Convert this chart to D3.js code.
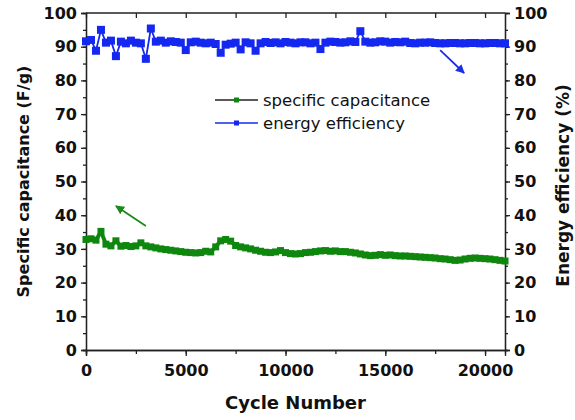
<!DOCTYPE html>
<html>
<head>
<meta charset="utf-8">
<script src="https://cdn.jsdelivr.net/npm/d3@7"></script>
<style>
  body { margin: 0; background: #fff; }
  text { font-family: "DejaVu Sans", sans-serif; }
  .tick text { font-size: 16px; font-weight: bold; fill: #111; }
  .domain, .tick line { stroke: #222; stroke-width: 1.3; }
</style>
</head>
<body>
<div id="chart"></div>
<script>
const cycleStep = 250;
const capacitance = [
  32.8, 33.0, 32.6, 35.2, 31.4, 30.9, 32.4, 30.8, 31.0, 30.7, 30.9, 31.8, 30.9, 30.6, 30.3, 30.0, 29.8,
  29.6, 29.4, 29.2, 29.0, 28.9, 28.8, 28.9, 29.3, 29.1, 30.6, 32.4, 32.8, 32.3, 31.0, 30.6, 30.3, 30.0,
  29.6, 29.3, 29.0, 28.9, 29.1, 29.5, 28.9, 28.6, 28.5, 28.6, 28.9, 29.0, 29.2, 29.4, 29.5, 29.3, 29.4,
  29.2, 29.2, 29.0, 28.8, 28.5, 28.2, 28.0, 28.1, 28.3, 28.1, 28.2, 28.0, 27.9, 27.9, 27.8, 27.7, 27.6,
  27.5, 27.4, 27.3, 27.1, 27.0, 26.8, 26.6, 26.7, 27.0, 27.2, 27.3, 27.2, 27.1, 27.0, 26.8, 26.6, 26.4
];
const efficiency = [
  91.6, 92.0, 88.8, 95.0, 91.2, 91.8, 87.2, 91.5, 91.0, 91.8, 91.2, 91.0, 86.4, 95.4, 91.5, 91.8, 91.2,
  91.6, 91.4, 91.2, 89.0, 91.3, 91.5, 91.2, 91.0, 91.2, 90.8, 88.2, 90.6, 90.9, 91.2, 89.2, 91.3, 91.0,
  88.8, 91.0, 91.4, 91.1, 91.3, 91.0, 91.4, 91.2, 91.0, 91.3, 91.3, 91.0, 91.2, 89.3, 91.2, 91.5, 91.4,
  91.2, 91.3, 91.6, 91.4, 94.6, 91.5, 91.2, 91.3, 91.6, 91.5, 91.2, 91.4, 91.3, 91.5, 91.1, 91.0, 91.2,
  91.2, 91.3, 91.1, 91.0, 91.0, 91.1, 91.1, 91.0, 91.0, 91.1, 91.1, 91.0, 91.0, 91.1, 91.1, 91.0, 91.0
];
const xTicks = [0, 5000, 10000, 15000, 20000];
const yTicks = [0, 10, 20, 30, 40, 50, 60, 70, 80, 90, 100];
const legendLabels = ['specific capacitance', 'energy efficiency'];
// arrows: [fromCycle, fromValue, toCycle, toValue]
const greenArrow = [3000, 36.8, 1500, 42.7];
const blueArrow = [17750, 89.0, 18950, 82.2];

const capData = capacitance.map((v, i) => ({ cycle: i * cycleStep, value: v }));
const effData = efficiency.map((v, i) => ({ cycle: i * cycleStep, value: v }));

const width = 575;
const height = 420;
const margin = { top: 13, right: 70, bottom: 70, left: 86 };

const svg = d3.select('#chart')
  .append('svg')
  .attr('width', width)
  .attr('height', height);

const xScale = d3.scaleLinear().domain([0, 21000]).range([margin.left, width - margin.right]);
const yScale = d3.scaleLinear().domain([0, 100]).range([height - margin.bottom, margin.top]);

const defs = svg.append('defs');
[['arrowGreen', '#1a8a1a'], ['arrowBlue', '#1a2ee8']].forEach(([id, c]) => {
  defs.append('marker')
    .attr('id', id)
    .attr('viewBox', '0 0 10 10')
    .attr('refX', 9).attr('refY', 5)
    .attr('markerWidth', 5).attr('markerHeight', 5)
    .attr('orient', 'auto')
    .append('path').attr('d', 'M0,0 L10,5 L0,10 z').attr('fill', c);
});

// axes
const bottom = height - margin.bottom;
const right = width - margin.right;
const minorX = d3.range(0, 21000, 2500);
const minorY = d3.range(0, 100, 5);

svg.append('g')
  .attr('transform', `translate(0,${bottom})`)
  .call(d3.axisBottom(xScale).tickValues(minorX).tickSize(4).tickFormat(''));
svg.append('g')
  .attr('transform', `translate(0,${bottom})`)
  .call(d3.axisBottom(xScale).tickValues(xTicks).tickSize(6).tickPadding(5).tickFormat(d3.format('d')))
  .call(g => g.selectAll('.tick text').attr('dy', '0.95em'));

svg.append('g')
  .attr('transform', `translate(0,${margin.top})`)
  .call(d3.axisBottom(xScale).tickValues(minorX).tickSize(5).tickFormat(''))
  .call(g => g.select('.domain').attr('d', `M${margin.left},0H${right}`));

svg.append('g')
  .attr('transform', `translate(${margin.left},0)`)
  .call(d3.axisLeft(yScale).tickValues(minorY).tickSize(3).tickFormat(''));
svg.append('g')
  .attr('transform', `translate(${margin.left},0)`)
  .call(d3.axisLeft(yScale).tickValues(yTicks).tickSize(5).tickPadding(4));

svg.append('g')
  .attr('transform', `translate(${right},0)`)
  .call(d3.axisRight(yScale).tickValues(minorY).tickSize(3).tickFormat(''));
svg.append('g')
  .attr('transform', `translate(${right},0)`)
  .call(d3.axisRight(yScale).tickValues(yTicks).tickSize(5).tickPadding(4));

svg.selectAll('.domain').attr('fill', 'none');

// series
const line = d3.line().x(d => xScale(d.cycle)).y(d => yScale(d.value));

function drawSeries(data, color, size, lineWidth) {
  const g = svg.append('g');
  g.append('path')
    .datum(data)
    .attr('fill', 'none')
    .attr('stroke', color)
    .attr('stroke-width', lineWidth)
    .attr('stroke-linejoin', 'round')
    .attr('d', line);
  g.selectAll('rect')
    .data(data)
    .join('rect')
    .attr('x', d => xScale(d.cycle) - size / 2)
    .attr('y', d => yScale(d.value) - size / 2)
    .attr('width', size)
    .attr('height', size)
    .attr('fill', color);
}

drawSeries(effData, '#1428f0', 8, 1.8);
drawSeries(capData, '#0f870f', 7, 4);

// arrows
[[greenArrow, '#1a8a1a', 'arrowGreen'], [blueArrow, '#1a2ee8', 'arrowBlue']].forEach(([a, c, m]) => {
  svg.append('line')
    .attr('x1', xScale(a[0])).attr('y1', yScale(a[1]))
    .attr('x2', xScale(a[2])).attr('y2', yScale(a[3]))
    .attr('stroke', c)
    .attr('stroke-width', 1.8)
    .attr('marker-end', `url(#${m})`);
});

// legend
const legend = svg.append('g').attr('transform', 'translate(215,100)');
const legendColors = [['#222', '#0f870f'], ['#1428f0', '#1428f0']];
legendLabels.forEach((label, i) => {
  const row = legend.append('g').attr('transform', `translate(0,${i * 23})`);
  row.append('line').attr('x1', 0).attr('x2', 43).attr('stroke', legendColors[i][0]).attr('stroke-width', 1.3);
  row.append('rect').attr('x', 19).attr('y', -2.5).attr('width', 5).attr('height', 5).attr('fill', legendColors[i][1]);
  row.append('text')
    .attr('x', 48)
    .attr('y', 6)
    .style('font-size', '16.5px')
    .attr('fill', '#111')
    .text(label);
});

// axis titles
svg.append('text')
  .attr('x', (margin.left + right) / 2)
  .attr('y', 409)
  .attr('text-anchor', 'middle')
  .style('font-size', '18px')
  .style('font-weight', 'bold')
  .attr('fill', '#111')
  .text('Cycle Number');

svg.append('text')
  .attr('transform', `translate(29,${(margin.top + bottom) / 2}) rotate(-90)`)
  .attr('text-anchor', 'middle')
  .style('font-size', '16px')
  .style('font-weight', 'bold')
  .attr('fill', '#111')
  .text('Specific capacitance (F/g)');

svg.append('text')
  .attr('transform', `translate(569,${(margin.top + bottom) / 2 + 4}) rotate(-90)`)
  .attr('text-anchor', 'middle')
  .style('font-size', '17px')
  .style('font-weight', 'bold')
  .attr('fill', '#111')
  .text('Energy efficiency (%)');
</script>
</body>
</html>
